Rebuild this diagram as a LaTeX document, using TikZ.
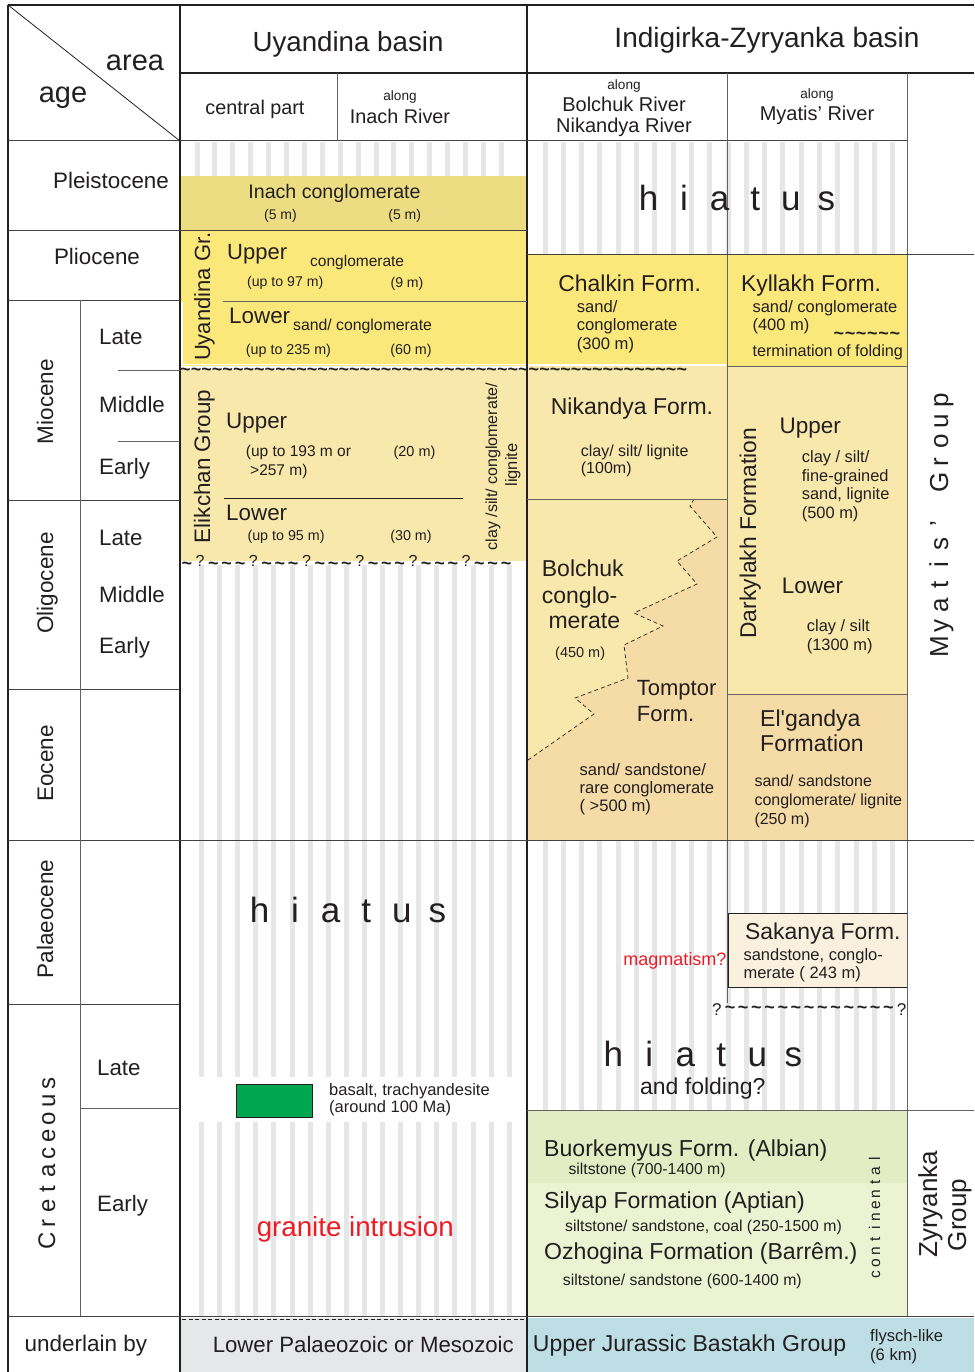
\documentclass[tikz,border=0pt]{standalone}
\usepackage{fontspec}
\setmainfont{Liberation Sans}
\definecolor{ink}{RGB}{35,31,32}
\definecolor{inach}{RGB}{236,221,131}
\definecolor{yel}{RGB}{251,232,122}
\definecolor{kh}{RGB}{248,232,171}
\definecolor{pch}{RGB}{245,219,166}
\definecolor{sak}{RGB}{250,240,222}
\definecolor{grnA}{RGB}{226,237,196}
\definecolor{grnB}{RGB}{235,243,211}
\definecolor{blu}{RGB}{190,222,230}
\definecolor{gry}{RGB}{230,231,233}
\definecolor{strp}{RGB}{229,230,232}
\definecolor{basalt}{RGB}{0,166,80}
\definecolor{redt}{RGB}{237,28,36}
\newcommand\fs[1]{\fontsize{#1}{#1}\selectfont}
\newcommand\btld{{\fontsize{18}{18}\selectfont\bfseries\textasciitilde}}
\newcommand\ltld{\raisebox{-3pt}{\btld}}
\newcommand\htld{\raisebox{2pt}{\btld}}
\def\mygap{}
\newcommand\myspread[2]{\def\mylw{#1}\myspreadx#2\relax}
\def\myspreadx#1{\ifx#1\relax\else\makebox[\mylw]{#1}\expandafter\myspreadx\fi}
\newcommand\reptld[2]{\foreach \i in {1,...,#1}{\makebox[#2]{\btld}}}
\newcommand\stripes[5]{\foreach \k in {0,...,#3}{\fill[strp] ({#1+#2*\k-2.5},#4) rectangle ({#1+#2*\k+2.5},#5);}}
\begin{document}
\begin{tikzpicture}[x=1pt,y=-1pt,
  t/.style={inner sep=0pt,anchor=base,text=ink},
  tl/.style={inner sep=0pt,anchor=base west,text=ink},
  rt/.style={inner sep=0pt,anchor=base,rotate=90,text=ink},
  major/.style={draw=ink,line width=1.6pt},
  minor/.style={draw=ink!85,line width=1pt},
  faint/.style={draw=ink!70,line width=0.9pt}]
\useasboundingbox (0,0) rectangle (974,1372);
\fill[white] (0,0) rectangle (974,1372);
% ---------- fills ----------
\fill[inach] (180,176) rectangle (527,231);
\fill[yel] (180,231) rectangle (527,366);
\fill[kh] (180,370) rectangle (527,561);
\fill[yel] (527,254) rectangle (907,366);
\fill[kh] (527,366) rectangle (727,840);
\fill[pch] (694,499) -- (690,506) -- (717,537) -- (677,561) -- (697,584) -- (634,613) -- (663,626) -- (624,645) -- (628,678) -- (575,698) -- (594,714) -- (528,760) -- (527,840) -- (727,840) -- (727,499) -- cycle;
\fill[kh] (727,366) rectangle (907,694);
\fill[pch] (727,694) rectangle (907,840);
\fill[grnB] (527,1110) rectangle (907,1316);
\fill[grnA] (527,1110) rectangle (907,1183);
\fill[blu] (527,1318) rectangle (974,1372);
\fill[gry] (180,1318) rectangle (527,1372);
% ---------- hiatus stripes ----------
\stripes{197}{17.9}{17}{142}{176}
\stripes{201.5}{18.1}{17}{565}{1077}
\stripes{201.5}{18.1}{17}{1122}{1316}
\stripes{545}{18.3}{19}{142}{254}
\stripes{545}{18.3}{19}{840}{1110}
% ---------- boxes ----------
\filldraw[fill=sak,draw=ink,line width=1pt] (728,913) rectangle (907,987);
\filldraw[fill=basalt,draw=ink,line width=0.8pt] (236,1084) rectangle (312,1117);
\draw[dashed,dash pattern=on 4pt off 3pt,ink,line width=0.7pt] (694,499) -- (690,506) -- (717,537) -- (677,561) -- (697,584) -- (634,613) -- (663,626) -- (624,645) -- (628,678) -- (575,698) -- (594,714) -- (528,760);
\draw[white,line width=1.2pt] (182,301.5) -- (182,364.5) -- (526,364.5);
\draw[white,line width=1.2pt] (528,365) -- (726,365);
% ---------- lines ----------
\draw[major] (8,5) -- (974,5);
\draw[major] (8,5) -- (8,1372);
\draw[major] (180,5) -- (180,1372);
\draw[major] (527,5) -- (527,1372);
\draw[major] (180,73) -- (974,73);
\draw[minor] (8,141) -- (907,141);
\draw[ink,line width=0.8pt] (8,5) -- (180,141);
\draw[faint] (337,73) -- (337,141);
\draw[faint] (727,73) -- (727,1003);
\draw[faint] (907,73) -- (907,1316);
\draw[minor] (8,231) -- (527,231);
\draw[minor] (8,300) -- (180,300);
\draw[minor] (8,500) -- (180,500);
\draw[minor] (8,689) -- (180,689);
\draw[minor] (8,840) -- (974,840);
\draw[minor] (8,1004) -- (180,1004);
\draw[minor] (8,1316) -- (974,1316);
\draw[faint] (80,300) -- (80,1316);
\draw[faint] (118,370) -- (180,370);
\draw[faint] (118,441) -- (180,441);
\draw[faint] (80,1108) -- (180,1108);
\draw[faint] (223,301) -- (527,301);
\draw[ink,line width=0.8pt] (224,498) -- (463,498);
\draw[minor] (527,254) -- (974,254);
\draw[faint] (727,366) -- (907,366);
\draw[faint] (527,499) -- (727,499);
\draw[faint] (727,694) -- (907,694);
\draw[faint] (527,1110) -- (974,1110);
\draw[ink,line width=0.8pt,dash pattern=on 4pt off 2.5pt] (182,1319) -- (525,1319);
% ---------- header ----------
\node[t,font=\fs{29}] (area) at (135,71) {area};
\node[t,font=\fs{29}] (age) at (63,103) {age};
\node[t,font=\fs{27.7}] (uyb) at (348,52) {Uyandina basin};
\node[t,font=\fs{28}] (izb) at (767,48) {Indigirka-Zyryanka basin};
\node[t,font=\fs{19.8}] (cp) at (255,115) {central part};
\node[t,font=\fs{13.6}] (al1) at (400,101) {along};
\node[t,font=\fs{19.8}] (ir) at (400,124) {Inach River};
\node[t,font=\fs{13.6}] (al2) at (624,89.5) {along};
\node[t,font=\fs{20}] (br) at (624,111.7) {Bolchuk River};
\node[t,font=\fs{20}] (nr) at (624,133) {Nikandya River};
\node[t,font=\fs{13.6}] (al3) at (817,99) {along};
\node[t,font=\fs{20}] (mr) at (817,120.7) {Myatis’ River};
% ---------- ages ----------
\node[t,font=\fs{22.4}] (ple) at (111,189) {Pleistocene};
\node[t,font=\fs{22.4}] (pli) at (97,265) {Pliocene};
\node[rt,font=\fs{22.5}] (mio) at (53,401.5) {Miocene};
\node[rt,font=\fs{22.5}] (oli) at (53,583) {Oligocene};
\node[rt,font=\fs{22.5}] (eoc) at (53,763.5) {Eocene};
\node[rt,font=\fs{22.5}] (pal) at (53,919) {Palaeocene};
\node[rt,font=\fs{24}] (cre) at (55,1162.5) {\myspread{17.5pt}{Cretaceous}};
\node[tl,font=\fs{22.3}] (ml) at (99,344) {Late};
\node[tl,font=\fs{22.3}] (mm) at (99,412) {Middle};
\node[tl,font=\fs{22.3}] (me) at (99,474) {Early};
\node[tl,font=\fs{22.3}] (ol) at (99,545) {Late};
\node[tl,font=\fs{22.3}] (om) at (99,602) {Middle};
\node[tl,font=\fs{22.3}] (oe) at (99,653) {Early};
\node[tl,font=\fs{22.3}] (cl) at (97,1075) {Late};
\node[tl,font=\fs{22.3}] (ce) at (97,1211) {Early};
\node[t,font=\fs{22.5}] (ulb) at (86,1351.7) {underlain by};
% ---------- Uyandina basin ----------
\node[t,font=\fs{19.6}] (inc) at (334.5,199) {Inach conglomerate};
\node[t,font=\fs{14}] (inc1) at (280.5,220) {(5 m)};
\node[t,font=\fs{14}] (inc2) at (404.7,220) {(5 m)};
\node[rt,font=\fs{22}] (uyg) at (210,296.7) {Uyandina Gr.};
\node[tl,font=\fs{22}] (uu) at (227,259) {Upper};
\node[tl,font=\fs{15.5}] (uuc) at (310,266.7) {conglomerate};
\node[tl,font=\fs{14.1}] (uu1) at (247,286.7) {(up to 97 m)};
\node[t,font=\fs{14.1}] (uu2) at (407,287) {(9 m)};
\node[tl,font=\fs{22.4}] (ul) at (229,323.3) {Lower};
\node[tl,font=\fs{15.8}] (ulc) at (293,330.7) {sand/ conglomerate};
\node[tl,font=\fs{14.3}] (ul1) at (245.7,354.3) {(up to 235 m)};
\node[t,font=\fs{14.3}] (ul2) at (411,354) {(60 m)};
\node[tl,inner sep=0pt] (wav1) at (180,375) {\reptld{48}{10.56pt}};
\node[rt,font=\fs{22.4}] (elg) at (210,466.5) {Elikchan Group};
\node[tl,font=\fs{22.4}] (eu) at (226,428.3) {Upper};
\node[tl,font=\fs{15.5}] (eu1) at (245.7,456.7) {(up to 193 m or};
\node[tl,font=\fs{15.5}] (eu2) at (250,475) {>257 m)};
\node[t,font=\fs{14.5}] (eu3) at (414.5,456.7) {(20 m)};
\node[tl,font=\fs{22.4}] (el) at (226,520) {Lower};
\node[tl,font=\fs{14.3}] (el1) at (247.3,540.7) {(up to 95 m)};
\node[t,font=\fs{14.3}] (el2) at (411,540) {(30 m)};
\node[rt,font=\fs{16}] (elr1) at (497,466.7) {clay /silt/ conglomerate/};
\node[rt,font=\fs{16.5}] (elr2) at (517,465) {lignite};
\node[tl,font=\fs{16}] (wav2) at (180,566) {\myspread{13.3pt}{\ltld?\ltld\ltld\ltld?\ltld\ltld\ltld?\ltld\ltld\ltld?\ltld\ltld\ltld?\ltld\ltld\ltld?\ltld\ltld\ltld}};
\node[t,font=\fs{35}] (hi1) at (348.5,922) {\myspread{35.6pt}{hiatus}};
\node[tl,font=\fs{16.5}] (bas1) at (329,1095) {basalt, trachyandesite};
\node[tl,font=\fs{16.5}] (bas2) at (329,1112.7) {(around 100 Ma)};
\node[t,font=\fs{27.7},text=redt] (gra) at (355.3,1236.7) {granite intrusion};
\node[t,font=\fs{22.2}] (lpm) at (363.3,1352.7) {Lower Palaeozoic or Mesozoic};
% ---------- Indigirka-Zyryanka basin ----------
\node[t,font=\fs{35}] (hi2) at (737.5,210.7) {\myspread{35.6pt}{hiatus}};
\node[t,font=\fs{22.9}] (chf) at (629.7,291.7) {Chalkin Form.};
\node[tl,font=\fs{16.6}] (ch1) at (576.7,312.7) {sand/};
\node[tl,font=\fs{16.6}] (ch2) at (576.7,330.7) {conglomerate};
\node[tl,font=\fs{16.6}] (ch3) at (576.7,349.3) {(300 m)};
\node[t,font=\fs{22.9}] (kyf) at (811,291.7) {Kyllakh Form.};
\node[tl,font=\fs{16.5}] (ky1) at (752.3,312.7) {sand/ conglomerate};
\node[tl,font=\fs{16.5}] (ky2) at (752.3,330.7) {(400 m)};
\node[tl] (ky3) at (833,339) {\reptld{6}{11.2pt}};
\node[tl,font=\fs{16.2}] (ky4) at (752.3,356.7) {termination of folding};
\node[t,font=\fs{23}] (nkf) at (632,414.3) {Nikandya Form.};
\node[tl,font=\fs{16}] (nk1) at (580.7,456.7) {clay/ silt/ lignite};
\node[tl,font=\fs{16}] (nk2) at (580.7,473.3) {(100m)};
\node[tl,font=\fs{23}] (bo1) at (541.7,576.7) {Bolchuk};
\node[tl,font=\fs{23}] (bo2) at (541.7,603.3) {conglo-};
\node[tl,font=\fs{23}] (bo3) at (548.3,628.3) {merate};
\node[tl,font=\fs{14.5}] (bo4) at (555,657.7) {(450 m)};
\node[tl,font=\fs{22}] (to1) at (636.7,695) {Tomptor};
\node[tl,font=\fs{22}] (to2) at (636.7,721.7) {Form.};
\node[tl,font=\fs{16.6}] (to3) at (579.3,775) {sand/ sandstone/};
\node[tl,font=\fs{16.6}] (to4) at (579.3,793.3) {rare conglomerate};
\node[tl,font=\fs{16.6}] (to5) at (579.3,811.7) {( >500 m)};
\node[rt,font=\fs{22.8}] (dkf) at (756,533.3) {Darkylakh Formation};
\node[tl,font=\fs{22.5}] (dku) at (779.3,433.3) {Upper};
\node[tl,font=\fs{16.4}] (dk1) at (801.7,462.7) {clay / silt/};
\node[tl,font=\fs{16.4}] (dk2) at (801.7,481.7) {fine-grained};
\node[tl,font=\fs{16.4}] (dk3) at (801.7,499.3) {sand, lignite};
\node[tl,font=\fs{16.4}] (dk4) at (801.7,518.3) {(500 m)};
\node[tl,font=\fs{22.5}] (dkl) at (781.7,593.3) {Lower};
\node[tl,font=\fs{16.4}] (dk5) at (806.7,631.7) {clay / silt};
\node[tl,font=\fs{16.4}] (dk6) at (806.7,650) {(1300 m)};
\node[tl,font=\fs{23}] (eg1) at (760,726) {El\textquotesingle gandya};
\node[tl,font=\fs{23}] (eg2) at (760,751.7) {Formation};
\node[tl,font=\fs{16}] (eg3) at (754.3,786) {sand/ sandstone};
\node[tl,font=\fs{16}] (eg4) at (754.3,805) {conglomerate/ lignite};
\node[tl,font=\fs{16}] (eg5) at (754.3,824) {(250 m)};
\node[rt,font=\fs{26}] (myg) at (948,523.3) {\myspread{20.5pt}{Myatis’\mygap Group}};
\node[tl,font=\fs{22.9}] (sk1) at (745,939.3) {Sakanya Form.};
\node[tl,font=\fs{16.5}] (sk2) at (743.3,960) {sandstone, conglo-};
\node[tl,font=\fs{16.5}] (sk3) at (743.3,978.3) {merate ( 243 m)};
\node[inner sep=0pt,anchor=base east,font=\fs{18},text=redt] (mag) at (726.7,965) {magmatism?};
\node[tl,font=\fs{17}] (wav3) at (710,1015) {\myspread{13.2pt}{?\htld\htld\htld\htld\htld\htld\htld\htld\htld\htld\htld\htld\htld?}};
\node[t,font=\fs{35}] (hi3) at (703.3,1066) {\myspread{36pt}{hiatus}};
\node[t,font=\fs{23}] (afo) at (702.8,1094.3) {and folding?};
\node[tl,font=\fs{23.1}] (buf) at (544,1156.7) {Buorkemyus Form. (Albian)};
\node[tl,font=\fs{15.8}] (bu1) at (568.3,1174.3) {siltstone (700-1400 m)};
\node[tl,font=\fs{23.1}] (syf) at (544,1208.3) {Silyap Formation (Aptian)};
\node[tl,font=\fs{15.8}] (sy1) at (565,1231.7) {siltstone/ sandstone, coal (250-1500 m)};
\node[tl,font=\fs{23.1}] (ozf) at (544,1259.3) {Ozhogina Formation (Barrêm.)};
\node[tl,font=\fs{15.8}] (oz1) at (562.7,1285) {siltstone/ sandstone (600-1400 m)};
\node[rt,font=\fs{15.5}] (con) at (880,1216.7) {\myspread{11.5pt}{continental}};
\node[rt,font=\fs{26}] (zy1) at (937,1204.2) {Zyryanka};
\node[rt,font=\fs{26}] (zy2) at (966,1215) {Group};
\node[tl,font=\fs{23}] (ujb) at (532.7,1351.7) {Upper Jurassic Bastakh Group};
\node[tl,font=\fs{16.6}] (fl1) at (870,1341.7) {flysch-like};
\node[tl,font=\fs{16.6}] (fl2) at (870,1360) {(6 km)};
\end{tikzpicture}
\end{document}
